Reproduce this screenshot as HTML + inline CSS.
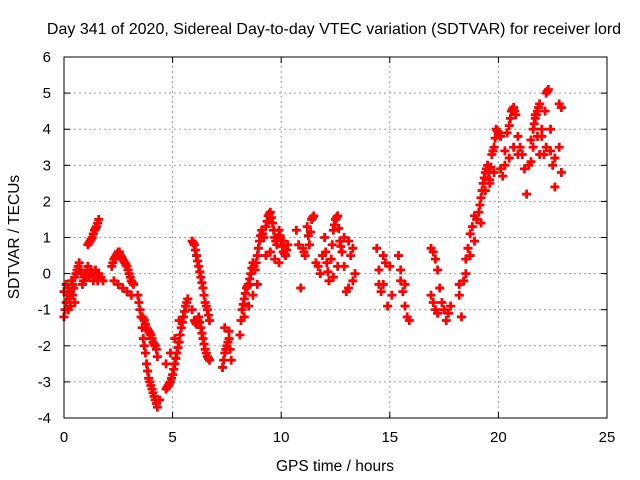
<!DOCTYPE html>
<html><head><meta charset="utf-8"><style>
body{margin:0;background:#fff;}
svg{display:block;font-family:"Liberation Sans",sans-serif;}
</style></head><body>
<svg id="chart" width="640" height="480">
<text x="334" y="34" text-anchor="middle" font-size="16" fill="#000">Day 341 of 2020, Sidereal Day-to-day VTEC variation (SDTVAR) for receiver lord</text>
<text x="335" y="471" text-anchor="middle" font-size="15.5" fill="#000">GPS time / hours</text>
<text transform="translate(19,237) rotate(-90)" text-anchor="middle" font-size="15.5" fill="#000">SDTVAR / TECUs</text>
<g id="grid"></g>
<g id="ticks"></g>
<g id="marks"></g>
<rect x="64" y="57" width="543" height="361" fill="none" stroke="#000" stroke-width="1"/>
</svg>
<script>
const xTicks=[0,5,10,15,20,25];
const yTicks=[-4,-3,-2,-1,0,1,2,3,4,5,6];
const hoursA=[0,0.1,0.2,0.3,0.4,0.5,0.6,0.7,0.8,0.9,1.0,1.1,1.2,1.3,1.4,1.5,1.6,1.7,1.8,
1.1,1.2,1.3,1.4,1.5,1.6,
0,0.1,0.2,0.3,0.4,0.5,
2.2,2.3,2.4,2.5,2.6,2.7,2.8,2.9,3.0,3.1,3.2,
2.3,2.5,2.7,2.9,3.1,
3.4,3.5,3.6,3.7,3.8,3.9,4.0,4.1,4.2,4.3,4.4,
3.6,3.7,3.8,3.9,4.0,4.1,4.2,4.3,
4.7,4.8,4.9,5.0,5.1,5.2,5.3,5.4,5.5,5.6,5.7,
4.7,4.9,5.1,5.3,
5.9,6.0,6.1,6.2,6.3,6.4,6.5,6.6,6.7,
5.9,6.0,6.1,6.2,6.3,6.4,6.5,6.6,6.7,
7.3,7.4,7.5,7.6,7.7,7.4,7.6];
const valuesA=[-1.2,-0.8,-0.4,-0.5,-0.3,-0.1,0.1,0.3,0,-0.2,-0.1,0.2,0,0,-0.1,0,0,-0.1,-0.2,
0.8,0.9,1.0,1.2,1.3,1.5,
-0.5,-0.3,-1.0,-0.9,-0.6,-0.8,
0.2,0.4,0.5,0.6,0.5,0.4,0.3,0.2,0.0,-0.2,-0.3,
-0.2,-0.3,-0.4,-0.5,-0.6,
-0.6,-1.0,-1.5,-2.0,-2.5,-2.9,-3.1,-3.3,-3.5,-3.7,-3.5,
-1.2,-1.3,-1.5,-1.6,-1.7,-1.9,-2.0,-2.3,
-3.2,-3.1,-3.0,-2.8,-2.5,-2.2,-1.9,-1.5,-1.2,-0.9,-0.7,
-2.5,-2.2,-1.8,-1.3,
-1.0,-1.3,-1.4,-1.2,-1.5,-1.8,-2.1,-2.3,-2.4,
0.9,0.8,0.5,0.2,-0.1,-0.4,-0.8,-1.0,-1.3,
-2.6,-2.2,-2.0,-1.8,-2.4,-1.5,-1.6];
const hoursB=[8.1,8.2,8.3,8.4,8.5,8.6,8.7,8.8,8.9,9.0,9.1,9.2,
8.3,8.5,8.7,8.9,
9.3,9.4,9.5,9.6,9.7,9.8,9.9,10.0,10.1,10.2,10.3,
9.3,9.5,9.7,9.9,10.1,
10.7,10.8,10.9,11.0,11.1,11.2,11.3,11.4,11.5,11.6,
11.7,11.8,11.9,12.0,12.1,12.2,12.3,12.4,12.5,12.6,12.7,12.8,12.4,12.6,
12.9,13.0,13.1,13.2,13.3,13.4,12.9,13.1,13.3,
14.4,14.5,14.6,14.7,14.8,14.9,15.0,15.1,14.5,14.7,
15.4,15.5,15.6,15.7,15.8,15.9,15.5,15.7,
16.9,17.0,17.1,17.2,17.3,17.4,16.9,17.0,17.1,17.2,
17.5,17.6,17.7,17.8,18.2,18.3,18.2];
const valuesB=[-1.7,-1.0,-0.7,-0.4,-0.3,0,0.3,0.1,0.5,0.9,1.2,1.0,
-1.2,-0.9,-0.6,-0.3,
1.3,1.6,1.7,1.4,1.0,0.8,1.2,0.9,0.6,0.5,0.8,
0.5,0.6,0.4,0.3,0.9,
1.2,0.8,-0.4,0.7,0.5,1.3,0.8,1.5,1.6,0.3,
0.2,0.0,0.5,1.0,0.3,-0.2,0.4,1.2,1.5,1.6,0.9,0.6,-0.1,0.2,
0.2,-0.5,-0.4,0.5,-0.2,0.0,1.0,0.9,0.7,
0.7,0.1,-0.5,-0.3,0.3,-0.9,0.2,-0.6,-0.3,0.5,
0.5,-0.2,-0.5,-0.9,-1.2,-1.3,0.1,-0.3,
0.7,0.6,0.4,0.1,-0.4,-0.8,-0.6,-0.8,-1.0,-1.1,
-1.0,-1.3,-1.1,-0.9,-0.6,-1.2,-0.3];
const hoursC=[18.4,18.5,18.6,18.7,18.8,18.9,19.0,18.5,18.7,18.9,
19.1,19.2,19.3,19.4,19.5,19.6,19.7,19.8,19.9,19.2,19.4,19.6,19.8,
20.0,20.1,20.2,20.3,20.4,20.5,20.6,20.7,20.8,20.9,20.1,20.3,20.5,20.7,20.9,
21.0,21.1,21.2,21.3,21.4,21.5,21.6,21.7,21.8,21.9,21.5,21.6,21.7,21.8,21.9,
22.0,22.1,22.2,22.3,22.4,22.5,22.6,22.0,22.2,22.4,22.6,22.8,22.9,22.8,22.9];
const valuesC=[-0.2,0.4,0.7,1.1,1.3,1.6,1.5,0,0.5,0.9,
1.7,2.1,2.5,2.8,3.0,2.6,3.3,3.5,4.0,1.4,2.3,2.5,2.8,
3.9,2.9,2.7,3.4,3.9,4.1,4.5,4.6,4.4,3.8,3.8,3.0,3.2,3.5,3.3,
3.5,3.3,2.9,2.2,3.0,3.7,4.0,4.3,4.5,4.7,3.1,3.5,4.4,3.8,3.3,
4.0,3.3,5.0,5.1,4.0,3.0,2.4,3.8,3.5,3.4,3.2,4.7,4.6,3.5,2.8];
const hoursD=[0.05,0.15,0.25,0.35,0.45,0.55,0.65,0.75,0.85,0.95,1.05,1.15,1.25,1.35,1.45,1.55,1.65,1.15,1.25,1.35,1.45,1.55,
2.25,2.35,2.45,2.55,2.65,2.75,2.85,2.95,3.05,3.15,
3.45,3.55,3.65,3.75,3.85,3.95,4.05,4.15,4.25,3.65,3.75,3.85,3.95,4.05,4.15,4.25,
4.75,4.85,4.95,5.05,5.15,5.25,5.35,5.45,5.55,5.65,
6.05,6.15,6.25,6.35,6.45,6.55,6.65,5.95,6.05,6.15,6.25,6.35,6.45,6.55,6.65,
7.35,7.45,7.55,7.65,
8.15,8.25,8.35,8.45,8.55,8.65,8.75,8.85,8.95,9.05,9.15,
9.35,9.45,9.55,9.65,9.75,9.85,9.95,10.05,10.15,10.25,
11.05,11.25,11.35,11.45,
12.05,12.15,12.35,12.45,12.55,12.65,12.75,
19.15,19.25,19.35,19.45,19.55,19.65,19.75,19.85,19.95,
20.55,20.65,20.75,21.65,21.75,21.85,22.25,22.15];
const valuesD=[-1.0,-0.6,-0.7,-0.2,-0.4,0,0.2,0.1,-0.3,0,0.1,-0.1,0.1,-0.2,0.1,-0.2,-0.1,0.85,0.95,1.1,1.25,1.4,
0.3,0.45,0.55,0.6,0.45,0.35,0.25,0.1,-0.1,-0.25,
-0.8,-1.2,-1.8,-2.2,-2.7,-3.0,-3.2,-3.4,-3.6,-1.25,-1.4,-1.55,-1.65,-1.8,-1.95,-2.1,
-3.15,-3.05,-2.9,-2.65,-2.35,-2.05,-1.7,-1.35,-1.05,-0.8,
-1.35,-1.3,-1.35,-1.65,-1.95,-2.2,-2.35,0.85,0.65,0.35,0.05,-0.25,-0.6,-0.9,-1.15,
-2.4,-2.1,-1.9,-2.1,
-1.3,-0.85,-0.55,-0.35,-0.15,0.15,0.2,0.3,0.7,1.05,1.1,
1.45,1.65,1.55,1.2,0.9,1.0,1.05,0.75,0.55,0.65,
0.6,1.05,1.15,1.55,
0.6,0.05,0.8,1.35,1.55,1.25,0.75,
1.9,2.3,2.65,2.9,2.8,2.95,3.4,3.75,3.95,
4.3,4.55,4.5,4.15,4.4,4.6,5.05,4.5];
const X0=64,X1=607,Y0=418,Y1=57;
const xs=h=>X0+(h-0)/(25-0)*(X1-X0);
const ys=v=>Y0-(v+4)/(6+4)*(Y0-Y1);
const NS='http://www.w3.org/2000/svg';
const grid=document.getElementById('grid'),ticks=document.getElementById('ticks'),marks=document.getElementById('marks');
function mk(tag,attrs,parent){const e=document.createElementNS(NS,tag);for(const k in attrs)e.setAttribute(k,attrs[k]);parent.appendChild(e);return e;}
xTicks.forEach(t=>{const x=xs(t);
 if(t>0&&t<25){const g=mk('line',{x1:x,x2:x,y1:Y0,y2:Y1,stroke:'#a0a0a0','stroke-dasharray':'2,3'},grid);
 
 }
 mk('line',{x1:x,x2:x,y1:Y0,y2:Y0-6,stroke:'#000'},ticks);
 mk('line',{x1:x,x2:x,y1:Y1,y2:Y1+6,stroke:'#000'},ticks);
 const l=mk('text',{x:x,y:Y0+24,'text-anchor':'middle','font-size':15},ticks);l.textContent=t;
 
 });
yTicks.forEach(t=>{const y=ys(t);
 if(t>-4&&t<6){const g=mk('line',{x1:X0,x2:X1,y1:y,y2:y,stroke:'#a0a0a0','stroke-dasharray':'2,3'},grid);
 
 }
 mk('line',{x1:X0,x2:X0+6,y1:y,y2:y,stroke:'#000'},ticks);
 mk('line',{x1:X1,x2:X1-6,y1:y,y2:y,stroke:'#000'},ticks);
 const l=mk('text',{x:X0-13,y:y+5,'text-anchor':'end','font-size':15},ticks);l.textContent=t;
 
 });
function plot(hs,vs){hs.forEach((h,i)=>{const x=xs(h),y=ys(vs[i]);
 const p=mk('path',{d:`M${x-4.5},${y}h9M${x},${y-4.5}v9`,stroke:'#ff0000','stroke-width':2.8,fill:'none'},marks);
 
 });}
plot(hoursA,valuesA);plot(hoursB,valuesB);plot(hoursC,valuesC);plot(hoursD,valuesD);
</script>
</body></html>
